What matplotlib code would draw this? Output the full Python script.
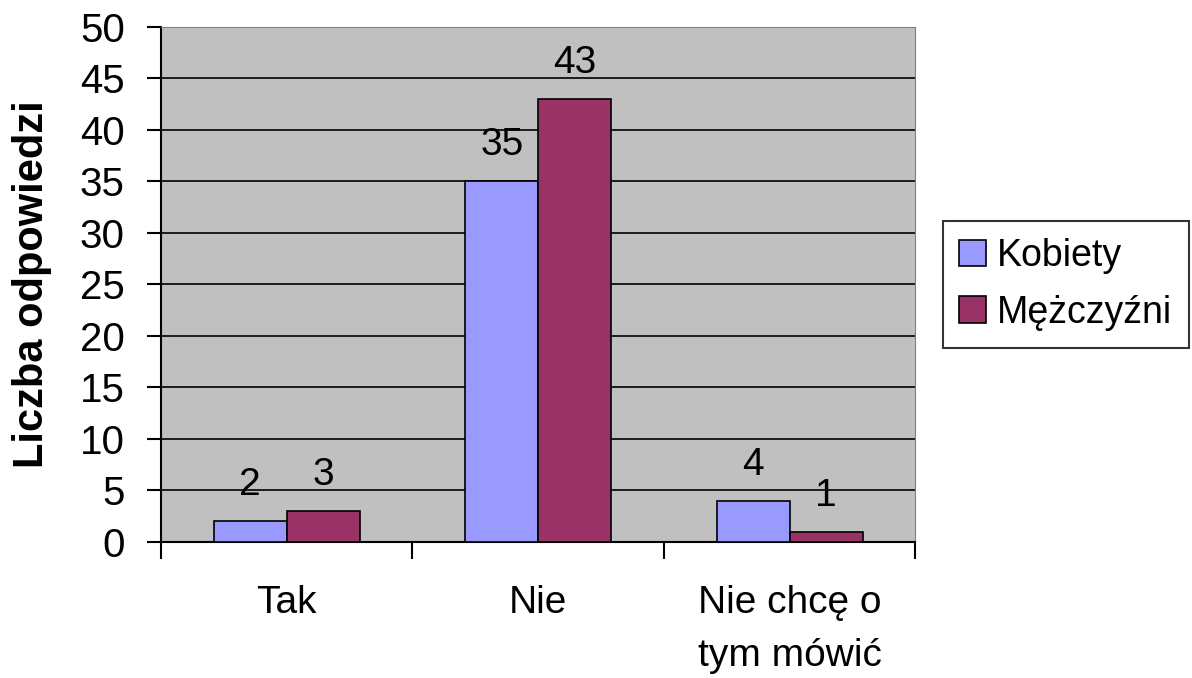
import matplotlib.pyplot as plt
import numpy as np

categories = ["Tak", "Nie", "Nie chcę o\ntym mówić"]
kobiety = [2, 35, 4]
mezczyzni = [3, 43, 1]
series_names = ["Kobiety", "Mężczyźni"]

plt.rcParams['font.family'] = ['Liberation Sans', 'DejaVu Sans']

fig = plt.figure(figsize=(11.92, 6.78), dpi=100)
ax = fig.add_axes([0.135, 0.2006, 0.633, 0.760])
ax.set_facecolor('#C0C0C0')

x = np.arange(len(categories))
w = 0.29
b1 = ax.bar(x - w / 2, kobiety, w, color='#9999FF', edgecolor='black', linewidth=1.2,
            label=series_names[0], zorder=3)
b2 = ax.bar(x + w / 2, mezczyzni, w, color='#993366', edgecolor='black', linewidth=1.2,
            label=series_names[1], zorder=3)

# data labels above the bars
for bars in (b1, b2):
    for r in bars:
        ax.annotate(f"{int(r.get_height())}", (r.get_x() + r.get_width() / 2, r.get_height()),
                    xytext=(0, 13), textcoords='offset points', ha='center', va='bottom',
                    fontsize=28)

ax.set_xlim(-0.5, 2.5)
ax.set_ylim(0, 50)
ax.set_yticks(range(0, 51, 5))
ax.yaxis.grid(True, color='black', linewidth=1.2, zorder=0)
ax.set_axisbelow(True)

ax.set_xticks(x)
ax.set_xticklabels(categories, fontsize=28, linespacing=1.6)
ax.tick_params(axis='x', length=0, pad=31)
ax.set_xticks([-0.5, 0.5, 1.5, 2.5], minor=True)
ax.tick_params(axis='x', which='minor', length=12, width=1.5, direction='out')
ax.tick_params(axis='y', labelsize=29, length=10, width=1.5, direction='out', pad=16)

for s in ['top', 'right']:
    ax.spines[s].set_color('#808080')
for s in ['left', 'bottom']:
    ax.spines[s].set_linewidth(1.5)

ax.set_ylabel("Liczba odpowiedzi", fontsize=30, fontweight='bold', labelpad=20)

leg = ax.legend(loc='center left', bbox_to_anchor=(1.036, 0.5), fontsize=27,
                frameon=True, fancybox=False, edgecolor='black', handlelength=0.7,
                handleheight=0.7, handletextpad=0.3, labelspacing=0.55, borderpad=0.45,
                borderaxespad=0)
leg.get_frame().set_linewidth(1.5)

fig.savefig('out.png', dpi=100)
